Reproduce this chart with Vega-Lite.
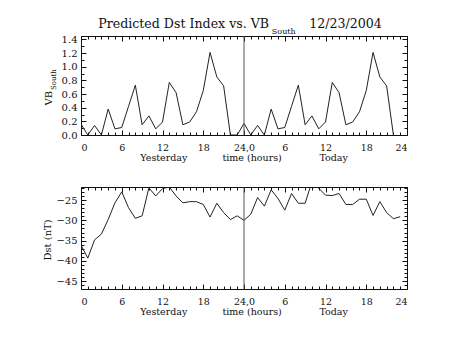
{
  "$schema": "https://vega.github.io/schema/vega-lite/v6.json",
  "padding": {"left": 42, "top": 17, "right": 5, "bottom": 5},
  "spacing": 22,
  "config": {
    "font": "DejaVu Serif",
    "view": {"stroke": "#111", "strokeWidth": 1},
    "axis": {"domain": false, "grid": false, "tickColor": "#111", "labelColor": "#111", "labelFont": "DejaVu Serif", "labelFontSize": 10, "tickWidth": 1},
    "text": {"font": "DejaVu Serif", "color": "#111"}
  },
  "datasets": {
    "one": [{}],
    "vb": [
      {"hour": 0, "vb": 0.16}, {"hour": 1, "vb": 0.0}, {"hour": 2, "vb": 0.14}, {"hour": 3, "vb": 0.0},
      {"hour": 4, "vb": 0.38}, {"hour": 5, "vb": 0.09}, {"hour": 6, "vb": 0.11}, {"hour": 7, "vb": 0.42},
      {"hour": 8, "vb": 0.73}, {"hour": 9, "vb": 0.15}, {"hour": 10, "vb": 0.28}, {"hour": 11, "vb": 0.09},
      {"hour": 12, "vb": 0.19}, {"hour": 13, "vb": 0.77}, {"hour": 14, "vb": 0.62}, {"hour": 15, "vb": 0.15},
      {"hour": 16, "vb": 0.19}, {"hour": 17, "vb": 0.34}, {"hour": 18, "vb": 0.65}, {"hour": 19, "vb": 1.21},
      {"hour": 20, "vb": 0.85}, {"hour": 21, "vb": 0.72}, {"hour": 22, "vb": 0.0}, {"hour": 23, "vb": 0.0},
      {"hour": 24, "vb": 0.17}, {"hour": 25, "vb": 0.0}, {"hour": 26, "vb": 0.14}, {"hour": 27, "vb": 0.0},
      {"hour": 28, "vb": 0.38}, {"hour": 29, "vb": 0.09}, {"hour": 30, "vb": 0.11}, {"hour": 31, "vb": 0.42},
      {"hour": 32, "vb": 0.73}, {"hour": 33, "vb": 0.15}, {"hour": 34, "vb": 0.28}, {"hour": 35, "vb": 0.09},
      {"hour": 36, "vb": 0.19}, {"hour": 37, "vb": 0.77}, {"hour": 38, "vb": 0.62}, {"hour": 39, "vb": 0.15},
      {"hour": 40, "vb": 0.19}, {"hour": 41, "vb": 0.34}, {"hour": 42, "vb": 0.65}, {"hour": 43, "vb": 1.21},
      {"hour": 44, "vb": 0.85}, {"hour": 45, "vb": 0.72}, {"hour": 46, "vb": 0.0}
    ],
    "dst": [
      {"hour": 0, "dst": -36.1}, {"hour": 1, "dst": -39.3}, {"hour": 2, "dst": -34.8}, {"hour": 3, "dst": -33.4},
      {"hour": 4, "dst": -29.8}, {"hour": 5, "dst": -25.7}, {"hour": 6, "dst": -23.0}, {"hour": 7, "dst": -26.9},
      {"hour": 8, "dst": -29.5}, {"hour": 9, "dst": -28.9}, {"hour": 10, "dst": -22.0}, {"hour": 11, "dst": -24.0},
      {"hour": 12, "dst": -22.2}, {"hour": 13, "dst": -21.8}, {"hour": 14, "dst": -24.0}, {"hour": 15, "dst": -25.7},
      {"hour": 16, "dst": -25.4}, {"hour": 17, "dst": -25.4}, {"hour": 18, "dst": -26.1}, {"hour": 19, "dst": -29.2},
      {"hour": 20, "dst": -25.8}, {"hour": 21, "dst": -28.1}, {"hour": 22, "dst": -29.8}, {"hour": 23, "dst": -28.9},
      {"hour": 24, "dst": -30.0}, {"hour": 25, "dst": -28.5}, {"hour": 26, "dst": -24.4}, {"hour": 27, "dst": -26.5},
      {"hour": 28, "dst": -22.5}, {"hour": 29, "dst": -24.6}, {"hour": 30, "dst": -27.5}, {"hour": 31, "dst": -23.4},
      {"hour": 32, "dst": -25.8}, {"hour": 33, "dst": -25.8}, {"hour": 34, "dst": -20.5}, {"hour": 35, "dst": -22.1},
      {"hour": 36, "dst": -23.8}, {"hour": 37, "dst": -23.9}, {"hour": 38, "dst": -23.4}, {"hour": 39, "dst": -26.1},
      {"hour": 40, "dst": -26.1}, {"hour": 41, "dst": -24.8}, {"hour": 42, "dst": -24.8}, {"hour": 43, "dst": -28.8},
      {"hour": 44, "dst": -25.4}, {"hour": 45, "dst": -28.1}, {"hour": 46, "dst": -29.6}, {"hour": 47, "dst": -29.1}
    ]
  },
  "vconcat": [
    {
      "width": 326,
      "height": 99,
      "resolve": {"axis": {"x": "independent", "y": "independent"}},
      "layer": [
        {
          "data": {"name": "vb"},
          "mark": {"type": "line", "clip": true, "color": "#222", "strokeWidth": 1},
          "encoding": {
            "x": {"field": "hour", "type": "quantitative", "scale": {"domain": [0, 48], "nice": false},
              "axis": {"orient": "bottom", "values": [0, 6, 12, 18, 24, 30, 36, 42, 48], "tickSize": -5, "labelPadding": 12, "labelFontSize": 9.5, "title": null,
                "labelExpr": "datum.value == 24 ? '24,0' : (datum.value > 24 ? '' + (datum.value - 24) : datum.label)"}},
            "y": {"field": "vb", "type": "quantitative", "scale": {"domain": [0, 1.45], "nice": false, "zero": false},
              "axis": {"orient": "left", "values": [0, 0.2, 0.4, 0.6, 0.8, 1.0, 1.2, 1.4], "format": ".1f", "tickSize": -5, "labelPadding": 9, "title": null}}
          }
        },
        {
          "data": {"name": "one"},
          "mark": {"type": "rule", "color": "#555", "strokeWidth": 1},
          "encoding": {
            "x": {"datum": 24, "type": "quantitative", "scale": {"domain": [0, 48], "nice": false},
              "axis": {"orient": "top", "values": [0, 6, 12, 18, 24, 30, 36, 42, 48], "tickSize": -5, "labels": false, "title": null}},
            "y": {"datum": 0, "type": "quantitative", "scale": {"domain": [0, 1.45], "nice": false, "zero": false},
              "axis": {"orient": "right", "values": [0, 0.2, 0.4, 0.6, 0.8, 1.0, 1.2, 1.4], "tickSize": -5, "labels": false, "title": null}},
            "y2": {"datum": 1.45}
          }
        },
        {
          "data": {"name": "one"},
          "mark": {"type": "text", "align": "right", "baseline": "alphabetic", "fontSize": 12.6},
          "encoding": {
            "text": {"value": "Predicted Dst Index vs. VB"},
            "x": {"datum": 27.7, "type": "quantitative", "scale": {"domain": [0, 48], "nice": false},
              "axis": {"orient": "bottom", "values": [1,2,3,4,5,7,8,9,10,11,13,14,15,16,17,19,20,21,22,23,25,26,27,28,29,31,32,33,34,35,37,38,39,40,41,43,44,45,46,47], "tickSize": -3, "labels": false, "title": null}},
            "y": {"datum": 1.56, "type": "quantitative", "scale": {"domain": [0, 1.45], "nice": false, "zero": false},
              "axis": {"orient": "left", "values": [0.1, 0.3, 0.5, 0.7, 0.9, 1.1, 1.3], "tickSize": -3, "labels": false, "title": null}}
          }
        },
        {
          "data": {"name": "one"},
          "mark": {"type": "text", "align": "left", "baseline": "alphabetic", "fontSize": 8},
          "encoding": {
            "text": {"value": "South"},
            "x": {"datum": 28.1, "type": "quantitative", "scale": {"domain": [0, 48], "nice": false},
              "axis": {"orient": "top", "values": [1,2,3,4,5,7,8,9,10,11,13,14,15,16,17,19,20,21,22,23,25,26,27,28,29,31,32,33,34,35,37,38,39,40,41,43,44,45,46,47], "tickSize": -3, "labels": false, "title": null}},
            "y": {"datum": 1.48, "type": "quantitative", "scale": {"domain": [0, 1.45], "nice": false, "zero": false},
              "axis": {"orient": "right", "values": [0.1, 0.3, 0.5, 0.7, 0.9, 1.1, 1.3], "tickSize": -3, "labels": false, "title": null}}
          }
        },
        {
          "data": {"name": "one"},
          "mark": {"type": "text", "align": "left", "baseline": "alphabetic", "fontSize": 12.6},
          "encoding": {
            "text": {"value": "12/23/2004"},
            "x": {"datum": 33.6, "type": "quantitative", "scale": {"domain": [0, 48], "nice": false}, "axis": null},
            "y": {"datum": 1.56, "type": "quantitative", "scale": {"domain": [0, 1.45], "nice": false, "zero": false}, "axis": null}
          }
        },
        {
          "data": {"name": "one"},
          "mark": {"type": "text", "align": "center", "baseline": "alphabetic", "fontSize": 9.5},
          "encoding": {
            "text": {"value": "Yesterday"},
            "x": {"datum": 12.2, "type": "quantitative", "scale": {"domain": [0, 48], "nice": false}, "axis": null},
            "y": {"datum": -0.385, "type": "quantitative", "scale": {"domain": [0, 1.45], "nice": false, "zero": false}, "axis": null}
          }
        },
        {
          "data": {"name": "one"},
          "mark": {"type": "text", "align": "center", "baseline": "alphabetic", "fontSize": 9.5},
          "encoding": {
            "text": {"value": "time (hours)"},
            "x": {"datum": 25.2, "type": "quantitative", "scale": {"domain": [0, 48], "nice": false}, "axis": null},
            "y": {"datum": -0.385, "type": "quantitative", "scale": {"domain": [0, 1.45], "nice": false, "zero": false}, "axis": null}
          }
        },
        {
          "data": {"name": "one"},
          "mark": {"type": "text", "align": "center", "baseline": "alphabetic", "fontSize": 9.5},
          "encoding": {
            "text": {"value": "Today"},
            "x": {"datum": 37.2, "type": "quantitative", "scale": {"domain": [0, 48], "nice": false}, "axis": null},
            "y": {"datum": -0.385, "type": "quantitative", "scale": {"domain": [0, 1.45], "nice": false, "zero": false}, "axis": null}
          }
        },
        {
          "data": {"name": "one"},
          "mark": {"type": "text", "align": "center", "baseline": "middle", "fontSize": 10, "angle": 270},
          "encoding": {
            "text": {"value": "VB"},
            "x": {"datum": -4.64, "type": "quantitative", "scale": {"domain": [0, 48], "nice": false}, "axis": null},
            "y": {"datum": 0.54, "type": "quantitative", "scale": {"domain": [0, 1.45], "nice": false, "zero": false}, "axis": null}
          }
        },
        {
          "data": {"name": "one"},
          "mark": {"type": "text", "align": "center", "baseline": "middle", "fontSize": 7, "angle": 270},
          "encoding": {
            "text": {"value": "South"},
            "x": {"datum": -3.98, "type": "quantitative", "scale": {"domain": [0, 48], "nice": false}, "axis": null},
            "y": {"datum": 0.81, "type": "quantitative", "scale": {"domain": [0, 1.45], "nice": false, "zero": false}, "axis": null}
          }
        }
      ]
    },
    {
      "width": 326,
      "height": 102,
      "resolve": {"axis": {"x": "independent", "y": "independent"}},
      "layer": [
        {
          "data": {"name": "dst"},
          "mark": {"type": "line", "clip": true, "color": "#222", "strokeWidth": 1},
          "encoding": {
            "x": {"field": "hour", "type": "quantitative", "scale": {"domain": [0, 48], "nice": false},
              "axis": {"orient": "bottom", "values": [0, 6, 12, 18, 24, 30, 36, 42, 48], "tickSize": -5, "labelPadding": 12, "labelFontSize": 9.5, "title": null,
                "labelExpr": "datum.value == 24 ? '24,0' : (datum.value > 24 ? '' + (datum.value - 24) : datum.label)"}},
            "y": {"field": "dst", "type": "quantitative", "scale": {"domain": [-46.9, -21.8], "nice": false, "zero": false},
              "axis": {"orient": "left", "values": [-45, -40, -35, -30, -25], "format": "d", "tickSize": -5, "labelPadding": 9, "title": null}}
          }
        },
        {
          "data": {"name": "one"},
          "mark": {"type": "rule", "color": "#555", "strokeWidth": 1},
          "encoding": {
            "x": {"datum": 24, "type": "quantitative", "scale": {"domain": [0, 48], "nice": false},
              "axis": {"orient": "top", "values": [0, 6, 12, 18, 24, 30, 36, 42, 48], "tickSize": -5, "labels": false, "title": null}},
            "y": {"datum": -46.9, "type": "quantitative", "scale": {"domain": [-46.9, -21.8], "nice": false, "zero": false},
              "axis": {"orient": "right", "values": [-45, -40, -35, -30, -25], "tickSize": -5, "labels": false, "title": null}},
            "y2": {"datum": -21.8}
          }
        },
        {
          "data": {"name": "one"},
          "mark": {"type": "text", "align": "center", "baseline": "alphabetic", "fontSize": 9.5},
          "encoding": {
            "text": {"value": "Yesterday"},
            "x": {"datum": 12.2, "type": "quantitative", "scale": {"domain": [0, 48], "nice": false},
              "axis": {"orient": "bottom", "values": [1,2,3,4,5,7,8,9,10,11,13,14,15,16,17,19,20,21,22,23,25,26,27,28,29,31,32,33,34,35,37,38,39,40,41,43,44,45,46,47], "tickSize": -3, "labels": false, "title": null}},
            "y": {"datum": -53.3, "type": "quantitative", "scale": {"domain": [-46.9, -21.8], "nice": false, "zero": false},
              "axis": {"orient": "left", "values": [-46, -44, -43, -42, -41, -39, -38, -37, -36, -34, -33, -32, -31, -29, -28, -27, -26, -24, -23, -22], "tickSize": -3, "labels": false, "title": null}}
          }
        },
        {
          "data": {"name": "one"},
          "mark": {"type": "text", "align": "center", "baseline": "alphabetic", "fontSize": 9.5},
          "encoding": {
            "text": {"value": "time (hours)"},
            "x": {"datum": 25.2, "type": "quantitative", "scale": {"domain": [0, 48], "nice": false},
              "axis": {"orient": "top", "values": [1,2,3,4,5,7,8,9,10,11,13,14,15,16,17,19,20,21,22,23,25,26,27,28,29,31,32,33,34,35,37,38,39,40,41,43,44,45,46,47], "tickSize": -3, "labels": false, "title": null}},
            "y": {"datum": -53.3, "type": "quantitative", "scale": {"domain": [-46.9, -21.8], "nice": false, "zero": false},
              "axis": {"orient": "right", "values": [-46, -44, -43, -42, -41, -39, -38, -37, -36, -34, -33, -32, -31, -29, -28, -27, -26, -24, -23, -22], "tickSize": -3, "labels": false, "title": null}}
          }
        },
        {
          "data": {"name": "one"},
          "mark": {"type": "text", "align": "center", "baseline": "alphabetic", "fontSize": 9.5},
          "encoding": {
            "text": {"value": "Today"},
            "x": {"datum": 37.2, "type": "quantitative", "scale": {"domain": [0, 48], "nice": false}, "axis": null},
            "y": {"datum": -53.3, "type": "quantitative", "scale": {"domain": [-46.9, -21.8], "nice": false, "zero": false}, "axis": null}
          }
        },
        {
          "data": {"name": "one"},
          "mark": {"type": "text", "align": "center", "baseline": "middle", "fontSize": 10, "angle": 270},
          "encoding": {
            "text": {"value": "Dst (nT)"},
            "x": {"datum": -4.93, "type": "quantitative", "scale": {"domain": [0, 48], "nice": false}, "axis": null},
            "y": {"datum": -34.84, "type": "quantitative", "scale": {"domain": [-46.9, -21.8], "nice": false, "zero": false}, "axis": null}
          }
        }
      ]
    }
  ]
}
